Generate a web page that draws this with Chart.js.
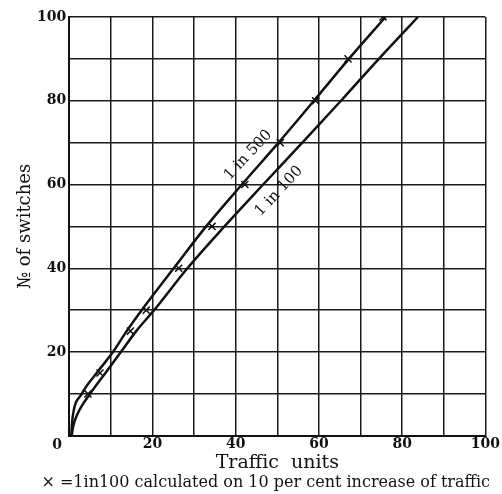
<!DOCTYPE html>
<html>
<head>
<meta charset="utf-8">
<script src="https://cdn.jsdelivr.net/npm/chart.js@4"></script>
<style>
  html, body { margin: 0; padding: 0; background: #fff; }
  #wrap { width: 502px; height: 494px; }
</style>
</head>
<body>
<div id="wrap"><canvas id="chart" width="502" height="494"></canvas></div>
<script>
// No. of switches (y) against traffic units (x)
const switches = [0, 2, 5, 10, 15, 20, 25, 30, 40, 50, 60, 70, 80, 90, 100];
const oneIn500 = [0.5, 0.6, 0.9, 3.0, 6.6, 10.5, 13.8, 17.4, 25.1, 32.9, 41.5, 50.3, 58.8, 67.2, 76.0];
const oneIn100 = [0.6, 0.9, 1.9, 5.0, 8.7, 12.4, 16.1, 20.4, 28.4, 37.3, 46.6, 56.0, 65.3, 74.4, 83.8];

// crosses: 1 in 100 calculated on 10 per cent increase of traffic
const crossTraffic = [4.5, 7.4, 14.7, 18.5, 26.3, 34.3, 42.2, 50.7, 59.2, 67.0, 75.4];
const crossSwitches = [10, 15, 25, 30, 40, 50, 60, 70, 80, 90, 100];

const xTicks = [20, 40, 60, 80, 100];
const yTicks = [20, 40, 60, 80, 100];

const serif = "'DejaVu Serif', 'Liberation Serif', serif";

const toPoints = (xs, ys) => xs.map((x, i) => ({ x, y: ys[i] }));

// corner "0" and the two curve labels
const plateText = {
  id: "plateText",
  afterDraw(chart) {
    const { ctx, chartArea, scales } = chart;
    const xs = scales.x, ys = scales.y;
    ctx.save();
    ctx.fillStyle = "#111";
    ctx.textAlign = "center";
    ctx.textBaseline = "middle";

    ctx.font = `bold 14px ${serif}`;
    ctx.fillText("0", chartArea.left - 12, chartArea.bottom + 10);

    const curveLabel = (text, x, y) => {
      ctx.save();
      ctx.translate(xs.getPixelForValue(x), ys.getPixelForValue(y));
      ctx.rotate(-47 * Math.PI / 180);
      ctx.font = `15px ${serif}`;
      ctx.fillText(text, 0, 0);
      ctx.restore();
    };
    curveLabel("1 in 500", 43.0, 67.0);
    curveLabel("1 in 100", 50.4, 58.4);
    ctx.restore();
  }
};

const curveStyle = {
  showLine: true,
  borderColor: "#111",
  borderWidth: 2.5,
  pointRadius: 0,
  cubicInterpolationMode: "monotone",
  fill: false
};

const tenSteps = (axis) => {
  axis.ticks = [];
  for (let v = 0; v <= 100; v += 10) axis.ticks.push({ value: v });
};

new Chart(document.getElementById("chart"), {
  type: "scatter",
  data: {
    datasets: [
      Object.assign({ label: "1 in 500", data: toPoints(oneIn500, switches) }, curveStyle),
      Object.assign({ label: "1 in 100", data: toPoints(oneIn100, switches) }, curveStyle),
      {
        label: "x = 1 in 100 calculated on 10 per cent increase of traffic",
        data: toPoints(crossTraffic, crossSwitches),
        pointStyle: "crossRot",
        pointRadius: 5,
        borderColor: "#111",
        borderWidth: 1.5,
        showLine: false
      }
    ]
  },
  options: {
    responsive: false,
    animation: false,
    layout: { padding: { left: 6, top: 17, right: 12, bottom: 0 } },
    plugins: {
      legend: { display: false },
      tooltip: { enabled: false },
      subtitle: {
        display: true,
        position: "bottom",
        align: "end",
        text: "\u00d7 =1in100 calculated on 10 per cent increase of traffic",
        color: "#111",
        font: { family: serif, size: 16 },
        padding: { top: 0, bottom: 2 }
      }
    },
    scales: {
      x: {
        type: "linear",
        min: 0,
        max: 100,
        afterBuildTicks: tenSteps,
        ticks: {
          color: "#111",
          padding: 2,
          maxRotation: 0,
          font: { family: serif, size: 14, weight: "bold", lineHeight: 1 },
          callback: (v) => (xTicks.includes(v) ? String(v) : "")
        },
        title: {
          display: true,
          text: "Traffic  units",
          color: "#111",
          font: { family: serif, size: 19, lineHeight: 1 },
          padding: { top: 0, bottom: 0 }
        },
        grid: { color: "#1a1a1a", lineWidth: 1.5, tickLength: 0 },
        border: { color: "#111", width: 2 }
      },
      y: {
        type: "linear",
        min: 0,
        max: 100,
        afterBuildTicks: tenSteps,
        ticks: {
          color: "#111",
          padding: 3,
          font: { family: serif, size: 14, weight: "bold" },
          callback: (v) => (yTicks.includes(v) ? String(v) : "")
        },
        title: {
          display: true,
          text: "\u2116 of switches",
          color: "#111",
          font: { family: serif, size: 18, lineHeight: 1 },
          padding: { top: 10, bottom: 0 }
        },
        grid: { color: "#1a1a1a", lineWidth: 1.5, tickLength: 0 },
        border: { color: "#111", width: 2 }
      }
    }
  },
  plugins: [plateText]
});
</script>
</body>
</html>
